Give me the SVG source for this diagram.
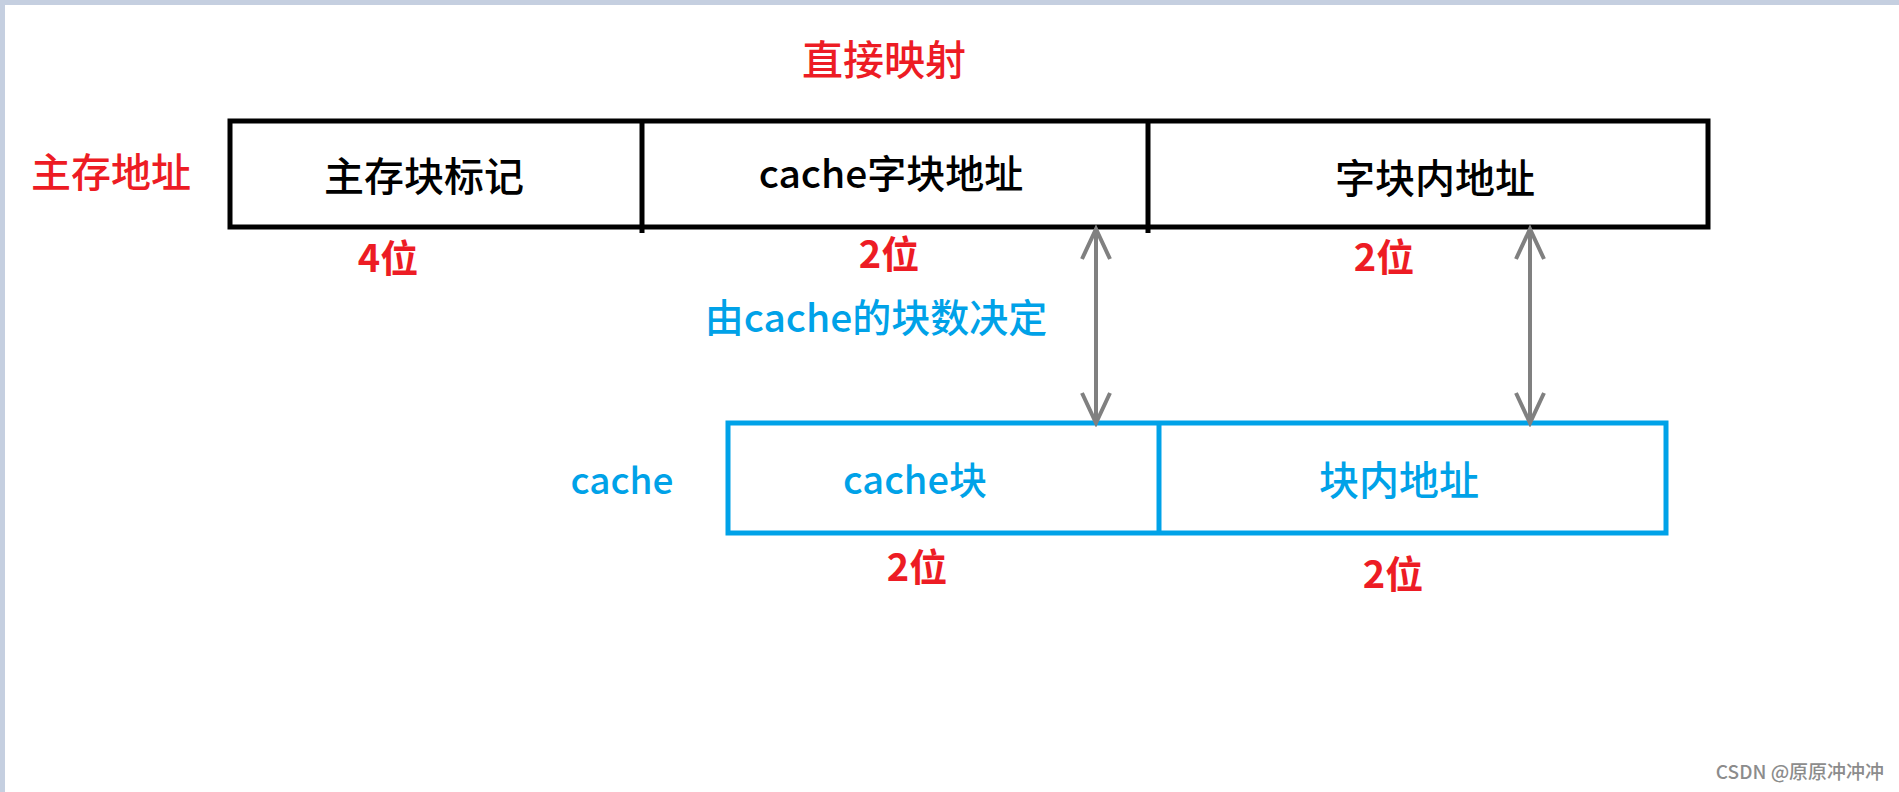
<svg xmlns="http://www.w3.org/2000/svg" width="1899" height="792" viewBox="0 0 1899 792">
<style>
text{font-family:"Noto Sans CJK SC","Noto Sans",sans-serif;text-anchor:middle;font-weight:500}
.red{fill:#ed1c24}
.blk{fill:#000}
.blue{fill:#00a2e8}
.bit{font-weight:bold}
.box{fill:none;stroke:#000;stroke-width:5}
.cbox{fill:none;stroke:#00a2e8;stroke-width:5}
.arr{stroke:#808080;stroke-width:4;fill:none}
</style>
<defs>
<marker id="ah" markerUnits="userSpaceOnUse" viewBox="-4 -18 38 36" markerWidth="38" markerHeight="36" refX="30" refY="0" orient="auto-start-reverse">
<path d="M0,-14 L30,0 L0,14" fill="none" stroke="#808080" stroke-width="4"/>
</marker>
</defs>
<rect x="0" y="0" width="1899" height="792" fill="#fff"/>
<rect x="0" y="0" width="1899" height="5" fill="#c5cfe0"/>
<rect x="0" y="0" width="5" height="792" fill="#c5cfe0"/>

<g id="title"><text class="red" x="884" y="75" font-size="41" font-weight="bold">直接映射</text></g>
<g id="main-label"><text class="red" x="111" y="187" font-size="40">主存地址</text></g>

<g id="main-address">
<rect class="box" x="230" y="121" width="1478" height="106"/>
<line class="box" x1="642" y1="121" x2="642" y2="233"/>
<line class="box" x1="1148" y1="121" x2="1148" y2="233"/>
<text class="blk" x="424" y="191" font-size="40">主存块标记</text>
<text class="blk" x="891" y="188" font-size="39">cache字块地址</text>
<text class="blk" x="1435" y="193" font-size="40">字块内地址</text>
</g>

<g id="bits-main">
<text class="red bit" x="388" y="272" font-size="38">4位</text>
<text class="red bit" x="889" y="268" font-size="38">2位</text>
<text class="red bit" x="1384" y="271" font-size="38">2位</text>
</g>

<g id="note"><text class="blue" x="876" y="332" font-size="39" font-weight="bold">由cache的块数决定</text></g>

<g id="cache-label"><text class="blue" x="622" y="494" font-size="37">cache</text></g>

<g id="cache">
<rect class="cbox" x="728" y="423" width="938" height="110"/>
<line class="cbox" x1="1159" y1="423" x2="1159" y2="533"/>
<text class="blue" x="915" y="494" font-size="38">cache块</text>
<text class="blue" x="1399" y="495" font-size="40">块内地址</text>
</g>

<g id="bits-cache">
<text class="red bit" x="917" y="581" font-size="38">2位</text>
<text class="red bit" x="1393" y="588" font-size="38">2位</text>
</g>

<g id="connectors">
<line class="arr" x1="1096" y1="229" x2="1096" y2="423" marker-start="url(#ah)" marker-end="url(#ah)"/>
<line class="arr" x1="1530" y1="229" x2="1530" y2="423" marker-start="url(#ah)" marker-end="url(#ah)"/>
</g>

<g id="watermark"><text x="1800" y="779" font-size="19" fill="#8c8c8c" font-weight="normal" font-family="Liberation Sans, Noto Sans CJK SC, sans-serif">CSDN @原原冲冲冲</text></g>
</svg>
